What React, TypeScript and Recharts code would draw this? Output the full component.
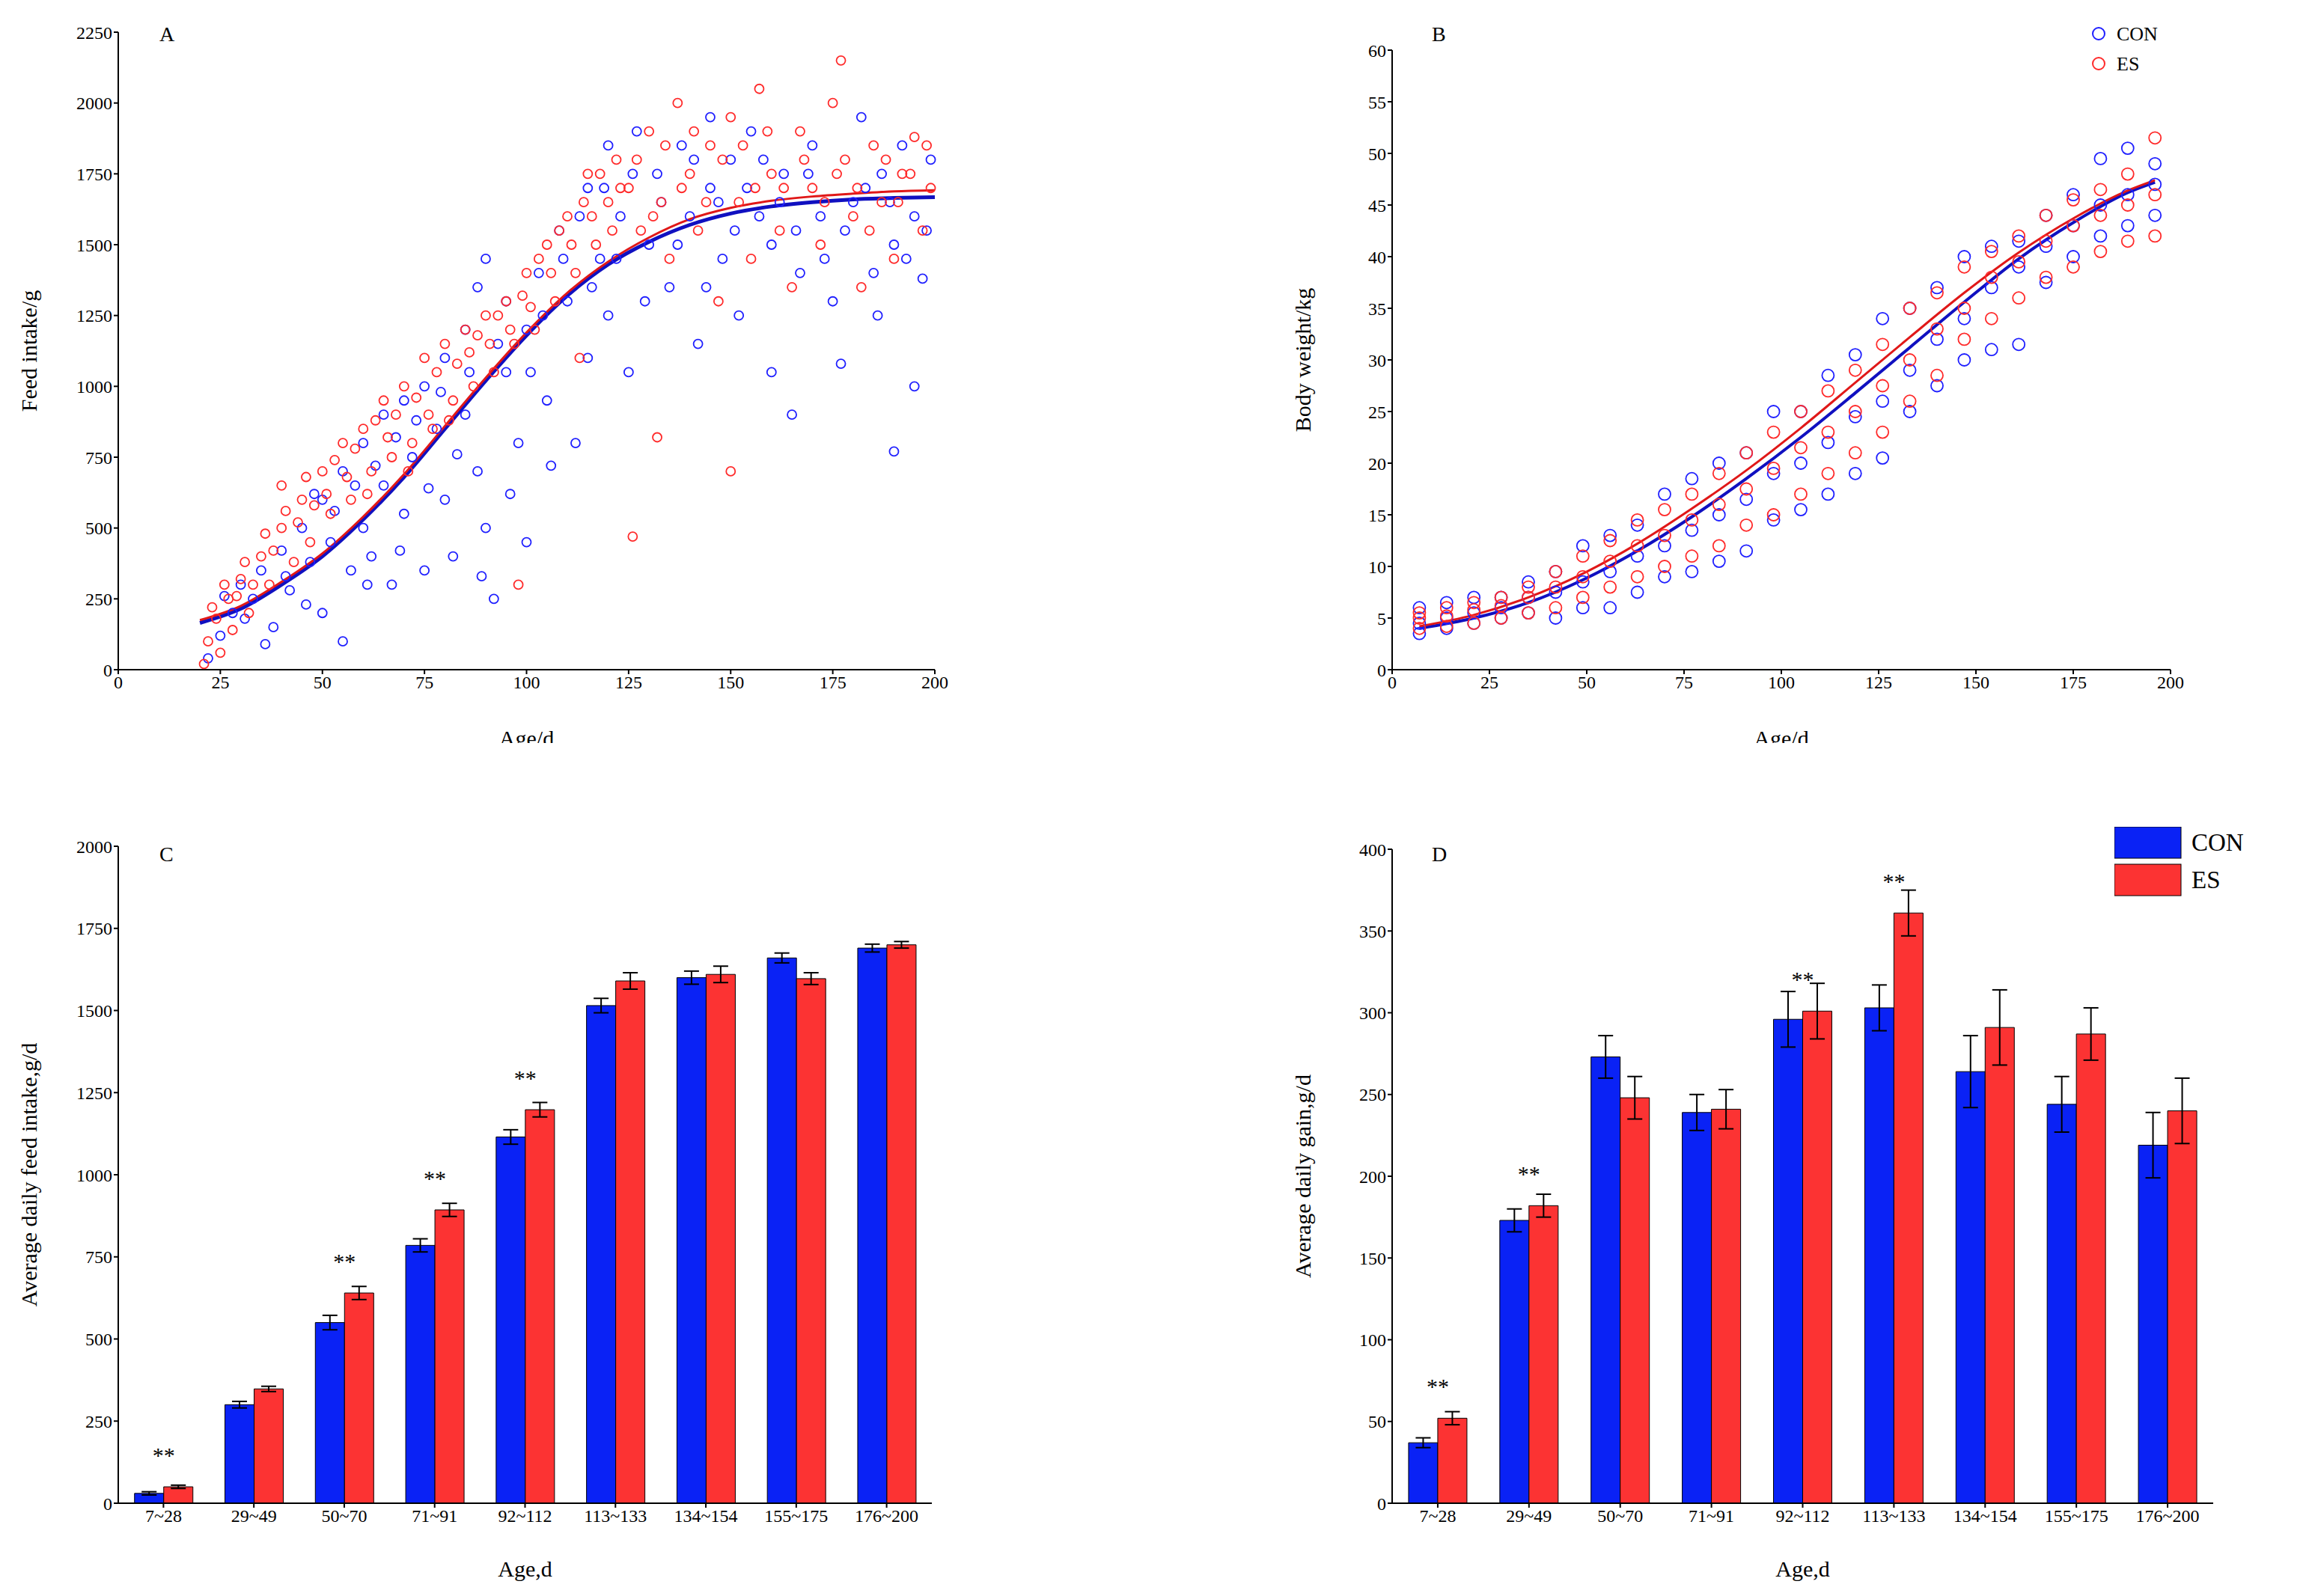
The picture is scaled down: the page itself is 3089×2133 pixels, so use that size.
import React from "react";
import { ComposedChart, Scatter, Line, XAxis, YAxis, BarChart, Bar, ErrorBar, LabelList } from "recharts";

const A_CON = [[22,40],[25,120],[28,200],[30,300],[33,250],[35,350],[38,150],[40,420],[42,280],[45,500],[47,380],[50,200],[50,600],[52,450],[55,700],[55,100],[57,350],[60,800],[60,500],[62,400],[65,900],[65,650],[67,300],[70,950],[70,550],[72,750],[75,1000],[75,350],[78,850],[80,1100],[80,600],[82,400],[85,1200],[85,900],[88,1350],[88,700],[90,1450],[90,500],[92,250],[95,1050],[95,1300],[98,800],[100,1200],[100,450],[103,1400],[105,950],[108,1550],[110,1300],[112,800],[115,1700],[115,1100],[118,1450],[120,1850],[120,1250],[123,1600],[125,1050],[127,1900],[130,1500],[132,1750],[135,1350],[138,1850],[140,1600],[142,1150],[145,1950],[145,1700],[148,1450],[150,1800],[152,1250],[155,1900],[157,1600],[160,1500],[160,1050],[163,1750],[165,900],[167,1400],[170,1850],[172,1600],[175,1300],[177,1080],[180,1650],[182,1950],[185,1400],[187,1750],[190,770],[190,1500],[192,1850],[195,1000],[195,1600],[197,1380],[199,1800],
  [26,260],[31,180],[36,90],[41,330],[46,230],[48,620],[53,560],[58,650],[61,300],[63,720],[68,820],[69,420],[73,880],[76,640],[79,980],[83,760],[86,1050],[89,330],[93,1150],[96,620],[101,1050],[104,1250],[106,720],[109,1450],[113,1600],[116,1350],[119,1700],[122,1450],[126,1750],[129,1300],[133,1650],[137,1500],[141,1800],[144,1350],[147,1650],[151,1550],[154,1700],[158,1800],[162,1650],[166,1550],[169,1750],[173,1450],[178,1550],[183,1700],[186,1250],[189,1650],[193,1450],[198,1550]];
const A_ES = [[21,20],[22,100],[24,180],[25,60],[27,250],[28,140],[30,320],[32,200],[35,400],[37,300],[40,500],[40,650],[43,380],[45,600],[47,450],[50,700],[52,550],[55,800],[57,600],[60,850],[62,700],[65,950],[67,750],[70,1000],[72,800],[75,1100],[77,850],[80,1150],[82,950],[85,1200],[87,1000],[90,1250],[92,1050],[95,1300],[97,1150],[98,300],[100,1400],[102,1200],[105,1500],[107,1300],[110,1600],[112,1400],[113,1100],[115,1750],[117,1500],[120,1650],[122,1800],[125,1700],[126,470],[128,1550],[130,1900],[132,820],[133,1650],[135,1450],[137,2000],[140,1750],[142,1550],[145,1850],[147,1300],[150,700],[150,1950],[152,1650],[155,1450],[157,2050],[160,1750],[162,1550],[165,1350],[167,1900],[170,1700],[172,1500],[175,2000],[177,2150],[178,1800],[180,1600],[182,1350],[185,1850],[187,1650],[190,1450],[192,1750],[195,1880],[197,1550],[199,1700],
  [23,220],[26,300],[29,260],[31,380],[33,300],[36,480],[38,420],[41,560],[44,520],[46,680],[48,580],[51,620],[53,740],[56,680],[58,780],[61,620],[63,880],[66,820],[68,900],[71,700],[73,960],[76,900],[78,1050],[81,880],[83,1080],[86,1120],[88,1180],[91,1150],[93,1250],[96,1200],[99,1320],[101,1280],[103,1450],[106,1400],[108,1550],[111,1500],[114,1650],[116,1600],[118,1750],[121,1550],[123,1700],[127,1800],[131,1600],[134,1850],[138,1700],[141,1900],[144,1650],[148,1800],[153,1850],[156,1700],[159,1900],[163,1700],[168,1800],[173,1650],[176,1750],[181,1700],[184,1550],[188,1800],[191,1650],[194,1750],[198,1850]];
const A_AGES = [20,30,40,50,60,70,80,90,100,110,120,130,140,150,160,170,180,190,200];
const A_FIT_CON = [165,215,300,400,530,680,850,1020,1180,1320,1430,1510,1570,1610,1635,1650,1660,1665,1668];
const A_FIT_ES = [175,225,310,410,540,690,860,1030,1190,1330,1440,1525,1590,1630,1655,1670,1680,1688,1692];

const B_AGES = [7,14,21,28,35,42,49,56,63,70,77,84,91,98,105,112,119,126,133,140,147,154,161,168,175,182,189,196];
const B_CON = [[3.5,4.5,6],[4,5,6.5],[4.5,5.5,7],[5,6,7],[5.5,7,8.5],[5,7.5,9.5],[6,8.5,12],[6,9.5,13],[7.5,11,14],[9,12,17],[9.5,13.5,18.5],[10.5,15,20],[11.5,16.5,21],[14.5,19,25],[15.5,20,25],[17,22,28.5],[19,24.5,30.5],[20.5,26,34],[25,29,35],[27.5,32,37],[30,34,40],[31,37,41],[31.5,39,41.5],[37.5,41,44],[40,43,46],[42,45,49.5],[43,46,50.5],[44,47,49]];
const B_ES = [[4,5,5.5],[4.2,5.2,6],[4.5,5.8,6.5],[5,6.2,7],[5.5,7,8],[6,8,9.5],[7,9,11],[8,10.5,12.5],[9,12,14.5],[10,13,15.5],[11,14.5,17],[12,16,19],[14,17.5,21],[15,19.5,23],[17,21.5,25],[19,23,27],[21,25,29],[23,27.5,31.5],[26,30,35],[28.5,33,36.5],[32,35,39],[34,38,40.5],[36,39.5,42],[38,41.5,44],[39,43,45.5],[40.5,44,46.5],[41.5,45,48],[42,46,51.5]];
const B_FIT_AGES = [7,21,35,49,63,77,91,105,119,133,147,161,175,189,196];
const B_FIT_CON = [4,5,6.5,8.7,11.5,14.8,18.5,22.5,26.8,31.2,35.6,39.8,43.3,46.2,47.2];
const B_FIT_ES = [4.2,5.3,7,9.3,12.2,15.6,19.3,23.4,27.8,32.2,36.5,40.4,43.7,46.4,47.4];

const CATS = ["7~28","29~49","50~70","71~91","92~112","113~133","134~154","155~175","176~200"];
const C_CON = [30,300,550,785,1115,1515,1600,1660,1690];
const C_ES = [50,348,640,893,1198,1590,1610,1597,1700];
const C_CON_ERR = [5,10,22,20,22,22,20,15,12];
const C_ES_ERR = [5,8,20,20,22,25,25,18,10];
const C_STARS = ["**","","**","**","**","","","",""];
const D_CON = [37,173,273,239,296,303,264,244,219];
const D_ES = [52,182,248,241,301,361,291,287,240];
const D_CON_ERR = [3,7,13,11,17,14,22,17,20];
const D_ES_ERR = [4,7,13,12,17,14,23,16,20];
const D_STARS = ["**","**","","","**","**","","",""];

const BLUE = "#1f1fff", RED = "#ff2a2a", BARB = "#0a22f5", BARR = "#fc3333";
const FONT = "Liberation Serif";
const tick = { fill: "#000", fontSize: 24, fontFamily: FONT };
const ax = { stroke: "#000", strokeWidth: 2 };

const pts = (arr: number[][]) => arr.map(([x, y]) => ({ x, y }));
const bpts = (w: number[][]) => B_AGES.flatMap((a, i) => w[i].map((y) => ({ x: a, y })));
const fit = (ages: number[], v: number[]) => ages.map((x, i) => ({ x, y: v[i] }));
const circ = (c: string, r: number) => (p: any) => <circle cx={p.cx} cy={p.cy} r={r} fill="none" stroke={c} strokeWidth={1.8} />;
const barData = (con: number[], es: number[], ce: number[], ee: number[], st: string[]) =>
  CATS.map((c, i) => ({ c, con: con[i], es: es[i], ce: ce[i], ee: ee[i], st: st[i] }));

const starLabel = (props: any) => {
  const { x, y, value } = props;
  if (!value) return null;
  return <text x={x} y={y - 32} textAnchor="middle" fontFamily={FONT} fontSize={30} fill="#000">{value}</text>;
};

const title = (t: string, x: number, y: number) => (
  <div style={{ position: "absolute", left: x, top: y, fontFamily: FONT, fontSize: 28 }}>{t}</div>
);

export default function App() {
  const cData = barData(C_CON, C_ES, C_CON_ERR, C_ES_ERR, C_STARS);
  const dData = barData(D_CON, D_ES, D_CON_ERR, D_ES_ERR, D_STARS);
  const axisLabel = (v: string, off = 0) => ({ value: v, position: "insideBottom" as const, offset: off, style: { fontFamily: FONT, fontSize: 30, fill: "#000" } });
  const yLabel = (v: string) => ({ value: v, angle: -90, position: "insideLeft" as const, offset: 10, style: { fontFamily: FONT, fontSize: 30, fill: "#000", textAnchor: "middle" } });
  return (
    <div style={{ position: "relative", width: 3081, height: 2125, background: "#fff", overflow: "hidden" }}>
      <div style={{ position: "absolute", left: 0, top: 0 }}>
        <ComposedChart width={1300} height={985} margin={{ top: 35, right: 59, left: 20, bottom: 18 }}>
          <XAxis type="number" dataKey="x" domain={[0, 200]} ticks={[0,25,50,75,100,125,150,175,200]} tick={tick} axisLine={ax} tickLine={ax} height={80} label={axisLabel("Age/d", -22)} allowDuplicatedCategory={false} />
          <YAxis type="number" dataKey="y" domain={[0, 2250]} ticks={[0,250,500,750,1000,1250,1500,1750,2000,2250]} tick={tick} axisLine={ax} tickLine={ax} width={130} label={yLabel("Feed intake/g")} />
          <Scatter data={pts(A_CON)} shape={circ(BLUE, 6)} isAnimationActive={false} />
          <Scatter data={pts(A_ES)} shape={circ(RED, 6)} isAnimationActive={false} />
          <Line data={fit(A_AGES, A_FIT_CON)} dataKey="y" type="monotone" stroke="#1010c0" strokeWidth={5} dot={false} isAnimationActive={false} />
          <Line data={fit(A_AGES, A_FIT_ES)} dataKey="y" type="monotone" stroke="#e01818" strokeWidth={3} dot={false} isAnimationActive={false} />
        </ComposedChart>
        {title("A", 205, 22)}
      </div>
      <div style={{ position: "absolute", left: 1700, top: 0 }}>
        <ComposedChart width={1250} height={985} margin={{ top: 59, right: 58, left: 22, bottom: 18 }}>
          <XAxis type="number" dataKey="x" domain={[0, 200]} ticks={[0,25,50,75,100,125,150,175,200]} tick={tick} axisLine={ax} tickLine={ax} height={80} label={axisLabel("Age/d", -22)} allowDuplicatedCategory={false} />
          <YAxis type="number" dataKey="y" domain={[0, 60]} ticks={[0,5,10,15,20,25,30,35,40,45,50,55,60]} tick={tick} axisLine={ax} tickLine={ax} width={130} label={yLabel("Body weight/kg")} />
          <Scatter data={bpts(B_CON)} shape={circ(BLUE, 8)} isAnimationActive={false} />
          <Scatter data={bpts(B_ES)} shape={circ(RED, 8)} isAnimationActive={false} />
          <Line data={fit(B_FIT_AGES, B_FIT_CON)} dataKey="y" type="monotone" stroke="#1010c0" strokeWidth={4} dot={false} isAnimationActive={false} />
          <Line data={fit(B_FIT_AGES, B_FIT_ES)} dataKey="y" type="monotone" stroke="#e01818" strokeWidth={3} dot={false} isAnimationActive={false} />
        </ComposedChart>
        {title("B", 205, 22)}
        <svg style={{ position: "absolute", left: 1080, top: 20 }} width={180} height={80}>
          <circle cx={16} cy={17} r={8} fill="none" stroke={BLUE} strokeWidth={2} />
          <text x={40} y={26} fontFamily={FONT} fontSize={26}>CON</text>
          <circle cx={16} cy={57} r={8} fill="none" stroke={RED} strokeWidth={2} />
          <text x={40} y={66} fontFamily={FONT} fontSize={26}>ES</text>
        </svg>
      </div>
      <div style={{ position: "absolute", left: 0, top: 1060 }}>
        <BarChart width={1300} height={1073} data={cData} margin={{ top: 63, right: 63, left: 20, bottom: 12 }} barGap={0} barCategoryGap="18%">
          <XAxis dataKey="c" tick={tick} axisLine={ax} tickLine={ax} height={120} interval={0} label={axisLabel("Age,d", 22)} />
          <YAxis domain={[0, 2000]} ticks={[0,250,500,750,1000,1250,1500,1750,2000]} tick={tick} axisLine={ax} tickLine={ax} width={130} label={yLabel("Average daily feed intake,g/d")} />
          <Bar dataKey="con" fill={BARB} stroke="#000" strokeWidth={1} isAnimationActive={false}>
            <ErrorBar dataKey="ce" width={10} stroke="#000" strokeWidth={2} direction="y" />
          </Bar>
          <Bar dataKey="es" fill={BARR} stroke="#000" strokeWidth={1} isAnimationActive={false}>
            <ErrorBar dataKey="ee" width={10} stroke="#000" strokeWidth={2} direction="y" />
            <LabelList dataKey="st" content={(p: any) => starLabel(p)} />
          </Bar>
        </BarChart>
        {title("C", 205, 58)}
      </div>
      <div style={{ position: "absolute", left: 1700, top: 1060 }}>
        <BarChart width={1300} height={1073} data={dData} margin={{ top: 67, right: 51, left: 22, bottom: 12 }} barGap={0} barCategoryGap="18%">
          <XAxis dataKey="c" tick={tick} axisLine={ax} tickLine={ax} height={120} interval={0} label={axisLabel("Age,d", 22)} />
          <YAxis domain={[0, 400]} ticks={[0,50,100,150,200,250,300,350,400]} tick={tick} axisLine={ax} tickLine={ax} width={130} label={yLabel("Average daily gain,g/d")} />
          <Bar dataKey="con" fill={BARB} stroke="#000" strokeWidth={1} isAnimationActive={false}>
            <ErrorBar dataKey="ce" width={10} stroke="#000" strokeWidth={2} direction="y" />
          </Bar>
          <Bar dataKey="es" fill={BARR} stroke="#000" strokeWidth={1} isAnimationActive={false}>
            <ErrorBar dataKey="ee" width={10} stroke="#000" strokeWidth={2} direction="y" />
            <LabelList dataKey="st" content={(p: any) => starLabel(p)} />
          </Bar>
        </BarChart>
        {title("D", 205, 58)}
        <svg style={{ position: "absolute", left: 1117, top: 37 }} width={260} height={100}>
          <rect x={0} y={0} width={89} height={42} fill={BARB} stroke="#000" />
          <text x={103} y={32} fontFamily={FONT} fontSize={33}>CON</text>
          <rect x={0} y={50} width={89} height={42} fill={BARR} stroke="#000" />
          <text x={103} y={82} fontFamily={FONT} fontSize={33}>ES</text>
        </svg>
      </div>
    </div>
  );
}
